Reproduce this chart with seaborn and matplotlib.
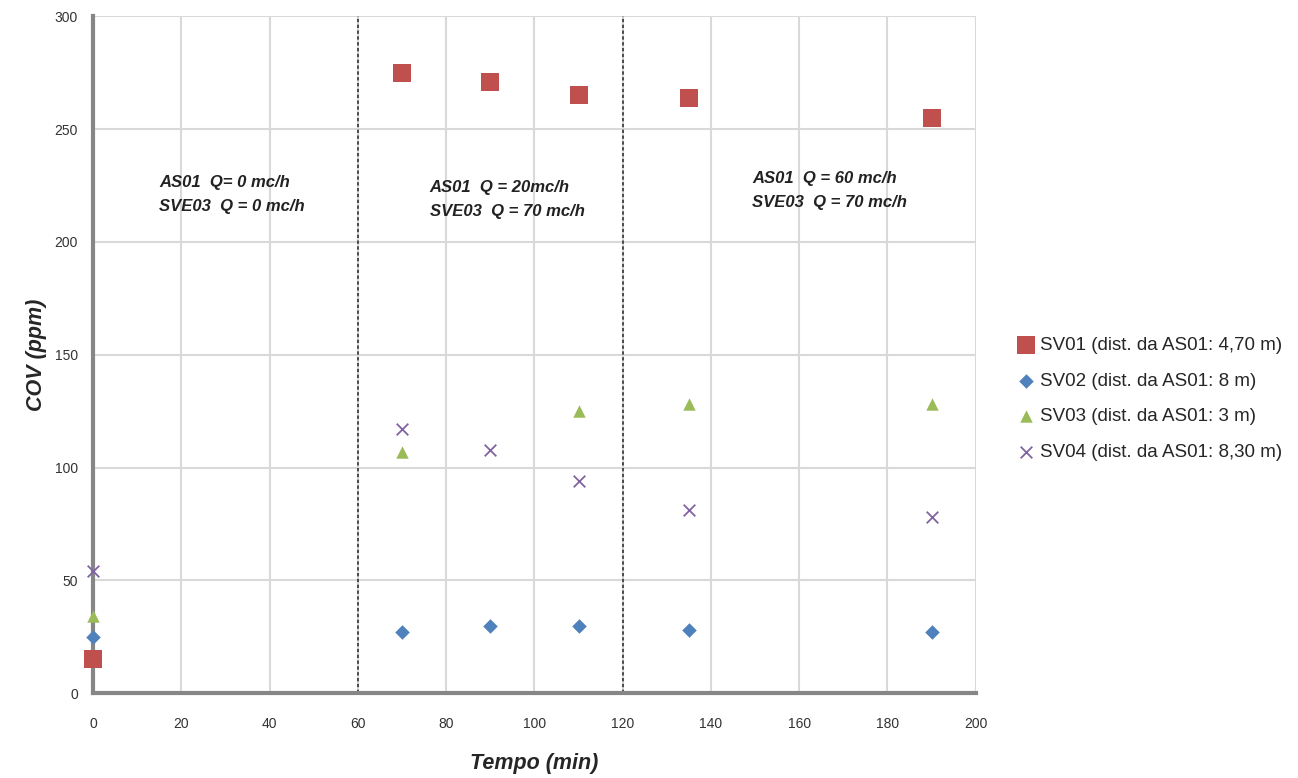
import pandas as pd
import matplotlib
matplotlib.use("Agg")
import matplotlib.pyplot as plt
import seaborn as sns

# Values
tempo_sv01 = [0, 70, 90, 110, 135, 190]
cov_sv01 = [15, 275, 271, 265, 264, 255]
tempo_sv02 = [0, 70, 90, 110, 135, 190]
cov_sv02 = [25, 27, 30, 30, 28, 27]
tempo_sv03 = [0, 70, 110, 135, 190]
cov_sv03 = [34, 107, 125, 128, 128]
tempo_sv04 = [0, 70, 90, 110, 135, 190]
cov_sv04 = [54, 117, 108, 94, 81, 78]

series_names = ["SV01 (dist. da AS01: 4,70 m)", "SV02 (dist. da AS01: 8 m)",
                "SV03 (dist. da AS01: 3 m)", "SV04 (dist. da AS01: 8,30 m)"]
phase_limits = [60, 120]
phase_labels = ["AS01  Q= 0 mc/h\nSVE03  Q = 0 mc/h",
                "AS01  Q = 20mc/h\nSVE03  Q = 70 mc/h",
                "AS01  Q = 60 mc/h\nSVE03  Q = 70 mc/h"]
phase_label_x = [15, 76.3, 149.3]
phase_label_y = [221, 219, 223]

frames = []
for name, t, c in zip(series_names,
                      [tempo_sv01, tempo_sv02, tempo_sv03, tempo_sv04],
                      [cov_sv01, cov_sv02, cov_sv03, cov_sv04]):
    frames.append(pd.DataFrame({"Tempo": t, "COV": c, "Serie": name}))
df = pd.concat(frames, ignore_index=True)

colors = ["#C0504D", "#4F81BD", "#9BBB59", "#8064A2"]
markers = ["s", "D", "^", "x"]
sizes = [150, 55, 80, 70]

sns.set_style("white")
plt.rcParams["font.family"] = ["Liberation Sans", "DejaVu Sans"]

fig = plt.figure(figsize=(12.98, 7.78), dpi=100)
ax = fig.add_axes([0.0717, 0.109, 0.680, 0.870])

for name, col, mk, sz in zip(series_names, colors, markers, sizes):
    sub = df[df["Serie"] == name]
    extra = {"linewidth": 1.3} if mk == "x" else {"linewidth": 0}
    sns.scatterplot(data=sub, x="Tempo", y="COV", color=col, marker=mk, s=sz,
                    label=name, ax=ax, zorder=3, clip_on=False, **extra)

ax.set_xlim(0, 200)
ax.set_ylim(0, 300)
ax.set_xticks(range(0, 201, 20))
ax.set_yticks(range(0, 301, 50))
ax.grid(True, color="#d9d9d9", linewidth=1.5)
ax.set_axisbelow(True)
for side in ["top", "right"]:
    ax.spines[side].set_visible(False)
for side in ["left", "bottom"]:
    ax.spines[side].set_color("#868686")
    ax.spines[side].set_linewidth(3)
ax.tick_params(axis="both", length=0, labelsize=10, colors="#333333")
ax.tick_params(axis="x", pad=17)
ax.tick_params(axis="y", pad=11)

for xv in phase_limits:
    ax.axvline(xv, color="#333333", linestyle=(0, (2, 1.5)), linewidth=1.2, zorder=2)

for lbl, xv, yv in zip(phase_labels, phase_label_x, phase_label_y):
    ax.text(xv, yv, lbl, fontsize=12, fontweight="bold", fontstyle="italic",
            ha="left", va="center", linespacing=1.75, color="#222222")

ax.set_xlabel("Tempo (min)", fontsize=15.5, fontweight="bold", fontstyle="italic", labelpad=16)
ax.set_ylabel("COV (ppm)", fontsize=15.5, fontweight="bold", fontstyle="italic", labelpad=5)

handles, labels = ax.get_legend_handles_labels()
ax.legend(handles, labels, loc="center left", bbox_to_anchor=(1.033, 0.435),
          frameon=False, fontsize=13.5, handletextpad=0.0, labelspacing=0.98,
          borderaxespad=0, handlelength=1.5)

fig.savefig("out.png", dpi=100)
